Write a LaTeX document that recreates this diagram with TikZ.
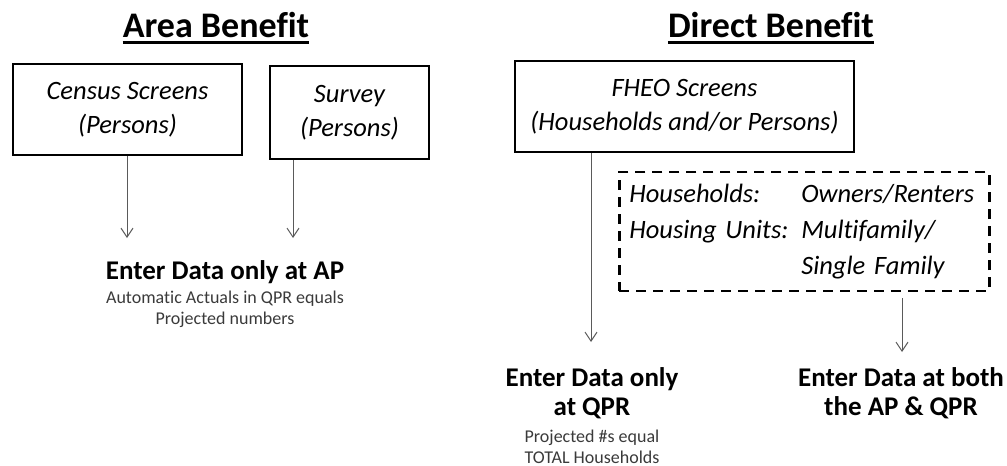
\documentclass[tikz,border=0pt]{standalone}
\usepackage{fontspec}
\setmainfont[Ligatures=NoCommon]{Carlito}
\usetikzlibrary{arrows.meta}
\definecolor{linkgray}{HTML}{5A5A5A}
\definecolor{notegray}{HTML}{3A3A3A}
\newcommand\titlefont{\fontsize{36}{40}\selectfont\bfseries}
\newcommand\boxfont{\fontsize{26.5}{34}\selectfont\itshape}
\newcommand\unitfont{\fontsize{26.5}{36}\selectfont\itshape}
\newcommand\resultfont{\fontsize{27}{29}\selectfont\bfseries}
\newcommand\notefont{\fontsize{18}{21}\selectfont}

\begin{document}
\begin{tikzpicture}[x={(1pt,0pt)},y={(0pt,-1pt)},
    screen/.style={draw,line width=2pt,align=center,font=\boxfont},
    group/.style={draw,line width=2.6pt,dash pattern=on 10pt off 7pt,font=\unitfont},
    heading/.style={inner sep=0pt,anchor=base,font=\titlefont},
    result/.style={anchor=base,align=center,font=\resultfont},
    note/.style={anchor=base,align=center,font=\notefont,text=notegray},
    link/.style={draw=linkgray,line width=1pt,-{Straight Barb[length=9pt,width=12pt]}}]
    \useasboundingbox (0,0) rectangle (1007,466);

    % headings
    \node[heading] (areatitle) at (216,37) {Area Benefit};
    \node[heading] (directtitle) at (771,37) {Direct Benefit};
    \draw[line width=2.2pt] ([yshift=-5.5pt]areatitle.base west) -- ([yshift=-5.5pt]areatitle.base east);
    \draw[line width=2.2pt] ([yshift=-5.5pt]directtitle.base west) -- ([yshift=-5.5pt]directtitle.base east);

    % screens
    \node[screen,minimum width=229pt,minimum height=91pt] (census) at (127.5,109.5) {Census Screens\\(Persons)};
    \node[screen,minimum width=159pt,minimum height=93pt] (survey) at (349.5,112.5) {Survey\\(Persons)};
    \node[screen,minimum width=339pt,minimum height=91pt] (fheo) at (684.5,106.5) {FHEO Screens\\(Households and/or Persons)};
    \node[group,anchor=west,text width=350pt,inner xsep=10pt,minimum height=119pt] (units) at (618,231.5)
        {\begin{tabular}{@{}p{172pt}@{}l@{}}
            Households: & Owners/Renters\\
            Housing Units: & Multifamily/\\
            & Single Family
        \end{tabular}};

    % results (base = last line)
    \node[result] (enterap) at (225,279) {Enter Data only at AP};
    \node[note] (noteap) at (225,324) {Automatic Actuals in QPR equals\\Projected numbers};
    \node[result] (enterqpr) at (592,415) {Enter Data only\\at QPR};
    \node[note] (noteqpr) at (592,463) {Projected \#s equal\\TOTAL Households};
    \node[result] (enterboth) at (901,415) {Enter Data at both\\the AP \& QPR};

    % arrows
    \coordinate (censusend) at (127,238);
    \coordinate (surveyend) at (293,238);
    \coordinate (fheoend) at (591,342);
    \coordinate (unitsend) at (902,352);
    \draw[link] (census.south -| censusend) -- (censusend);
    \draw[link] (survey.south -| surveyend) -- (surveyend);
    \draw[link] (fheo.south -| fheoend) -- (fheoend);
    \draw[link,shorten <=6pt] (units.south -| unitsend) -- (unitsend);
\end{tikzpicture}
\end{document}
